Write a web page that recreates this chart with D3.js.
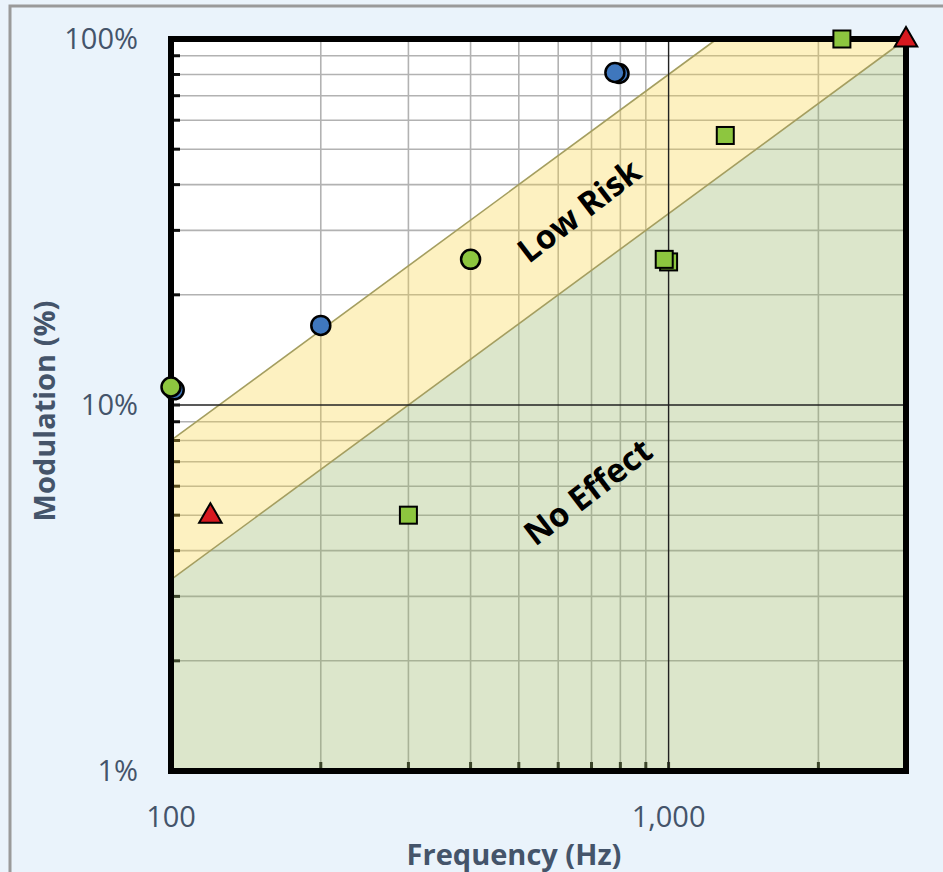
<!DOCTYPE html>
<meta charset="utf-8">
<style>
body { margin: 0; background: #fff; }
svg { display: block; font-family: "Open Sans", sans-serif; }
.tick-label { fill: #44546a; font-size: 29px; }
.axis-title { fill: #44546a; font-size: 29px; font-weight: bold; }
.zone-label { fill: #000; font-size: 33px; font-weight: bold; }
</style>
<svg width="943" height="872"></svg>
<script src="https://d3js.org/d3.v7.min.js"></script>
<script>

// frequency axis (Hz) and modulation axis (%)
var xTickValues = [100, 1000];
var xTickLabels = ["100", "1,000"];
var yTickValues = [1, 10, 100];
var yTickLabels = ["1%", "10%", "100%"];

// zone boundaries
var lowRiskFreq = [100, 1250];
var lowRiskPct = [8, 100];
var noEffectFreq = [100, 3000];
var noEffectPct = [3.333, 100];

// measured sources
var greenCircleFreq = [100, 400];
var greenCirclePct = [11.2, 25];
var blueCircleFreq = [101.5, 200, 795, 780];
var blueCirclePct = [11.0, 16.5, 80.5, 81];
var squareFreq = [1000, 300, 980, 1300, 2230];
var squarePct = [24.6, 5, 25, 54.5, 100];
var triangleFreq = [120, 3000];
var trianglePct = [5, 100];

var svg = d3.select("svg");
var plotL = 171, plotR = 906, plotT = 39, plotB = 771;

// background and frame of the sheet
svg.append("rect").attr("width", 943).attr("height", 872).attr("fill", "#eaf3fb");
svg.append("path").attr("d", "M10,872 V6 H943").attr("fill", "none")
	.attr("stroke", "#9a9a9a").attr("stroke-width", 3);

var x = d3.scaleLog().domain([100, 3000]).range([plotL, plotR]);
var y = d3.scaleLog().domain([1, 100]).range([plotB, plotT]);

svg.append("rect").attr("x", plotL).attr("y", plotT)
	.attr("width", plotR - plotL).attr("height", plotB - plotT).attr("fill", "#fff");

var xMinor = [200, 300, 400, 500, 600, 700, 800, 900, 2000];
var yMinor = [2, 3, 4, 5, 6, 7, 8, 9, 20, 30, 40, 50, 60, 70, 80, 90];

var grid = svg.append("g");
grid.selectAll(".vx").data(xMinor).enter().append("line")
	.attr("x1", d => x(d)).attr("x2", d => x(d))
	.attr("y1", plotT).attr("y2", plotB)
	.attr("stroke", "#b2b2b2").attr("stroke-width", 1.6);
grid.selectAll(".hy").data(yMinor).enter().append("line")
	.attr("y1", d => y(d)).attr("y2", d => y(d))
	.attr("x1", plotL).attr("x2", plotR)
	.attr("stroke", "#b2b2b2").attr("stroke-width", 1.6);
// minor ticks inside the frame
grid.selectAll(".ty").data(yMinor.concat([10])).enter().append("line")
	.attr("y1", d => y(d)).attr("y2", d => y(d))
	.attr("x1", plotL).attr("x2", plotL + 9)
	.attr("stroke", "#111").attr("stroke-width", 3);
grid.selectAll(".tx").data(xMinor.concat([1000])).enter().append("line")
	.attr("x1", d => x(d)).attr("x2", d => x(d))
	.attr("y1", plotB).attr("y2", plotB - 9)
	.attr("stroke", "#111").attr("stroke-width", 3);

// zones, semi transparent so the grid shows through
var line = d3.line().x(d => x(d[0])).y(d => y(d[1]));
var lowTop = lowRiskFreq.map((f, i) => [f, lowRiskPct[i]]);
var noTop = noEffectFreq.map((f, i) => [f, noEffectPct[i]]);

svg.append("path")
	.attr("d", line(lowTop.concat([[3000, 100]], noTop.slice().reverse())) + "Z")
	.attr("fill", "rgb(249,210,62)").attr("fill-opacity", 0.32);
svg.append("path")
	.attr("d", line(noTop.concat([[3000, 1], [100, 1]])) + "Z")
	.attr("fill", "rgb(150,180,96)").attr("fill-opacity", 0.33);

svg.append("path").attr("d", line(lowTop)).attr("fill", "none")
	.attr("stroke", "#a49e60").attr("stroke-width", 1.6);
svg.append("path").attr("d", line(noTop)).attr("fill", "none")
	.attr("stroke", "#a49e60").attr("stroke-width", 1.6);

// major grid lines
svg.append("line").attr("x1", x(1000)).attr("x2", x(1000))
	.attr("y1", plotT).attr("y2", plotB).attr("stroke", "#222").attr("stroke-width", 1.4);
svg.append("line").attr("y1", y(10)).attr("y2", y(10))
	.attr("x1", plotL).attr("x2", plotR).attr("stroke", "#222").attr("stroke-width", 1.4);

// zone labels
var ang = -37.5;
svg.append("text").attr("class", "zone-label")
	.attr("transform", "translate(579,211) rotate(" + ang + ")")
	.attr("text-anchor", "middle").attr("dy", "0.35em").text("Low Risk");
svg.append("text").attr("class", "zone-label")
	.attr("transform", "translate(588,492) rotate(" + ang + ")")
	.attr("text-anchor", "middle").attr("dy", "0.35em").text("No Effect");

// frame
svg.append("rect").attr("x", plotL).attr("y", plotT)
	.attr("width", plotR - plotL).attr("height", plotB - plotT)
	.attr("fill", "none").attr("stroke", "#000").attr("stroke-width", 6);

// markers
var marks = svg.append("g").attr("stroke", "#000").attr("stroke-width", 2.5);
function pts(fs, ps) { return fs.map((f, i) => [f, ps[i]]); }

marks.selectAll(".bc").data(pts(blueCircleFreq, blueCirclePct)).enter().append("circle")
	.attr("cx", d => x(d[0])).attr("cy", d => y(d[1])).attr("r", 9.5)
	.attr("fill", "#3f77bd");
marks.selectAll(".gc").data(pts(greenCircleFreq, greenCirclePct)).enter().append("circle")
	.attr("cx", d => x(d[0])).attr("cy", d => y(d[1])).attr("r", 9.5)
	.attr("fill", "#8dc63f");
marks.selectAll(".sq").data(pts(squareFreq, squarePct)).enter().append("rect")
	.attr("x", d => x(d[0]) - 8.5).attr("y", d => y(d[1]) - 8.5)
	.attr("width", 17).attr("height", 17)
	.attr("fill", "#8dc63f").attr("stroke-width", 2);
var tri = d3.symbol().type(d3.symbolTriangle).size(220);
marks.selectAll(".tr").data(pts(triangleFreq, trianglePct)).enter().append("path")
	.attr("transform", d => "translate(" + x(d[0]) + "," + (y(d[1]) + 1) + ")")
	.attr("d", tri).attr("fill", "#d7191f").attr("stroke-width", 2);

// tick labels
svg.selectAll(".yl").data(yTickValues).enter().append("text")
	.attr("class", "tick-label").attr("text-anchor", "end")
	.attr("x", 138).attr("y", d => y(d)).attr("dy", "0.35em")
	.text((d, i) => yTickLabels[i]);
svg.selectAll(".xl").data(xTickValues).enter().append("text")
	.attr("class", "tick-label").attr("text-anchor", "middle")
	.attr("x", d => x(d)).attr("y", 817).attr("dy", "0.35em")
	.text((d, i) => xTickLabels[i]);

svg.append("text").attr("class", "axis-title").attr("text-anchor", "middle")
	.attr("x", 514).attr("y", 865).text("Frequency (Hz)");
svg.append("text").attr("class", "axis-title").attr("text-anchor", "middle")
	.attr("transform", "translate(55,411) rotate(-90)").text("Modulation (%)");

</script>
